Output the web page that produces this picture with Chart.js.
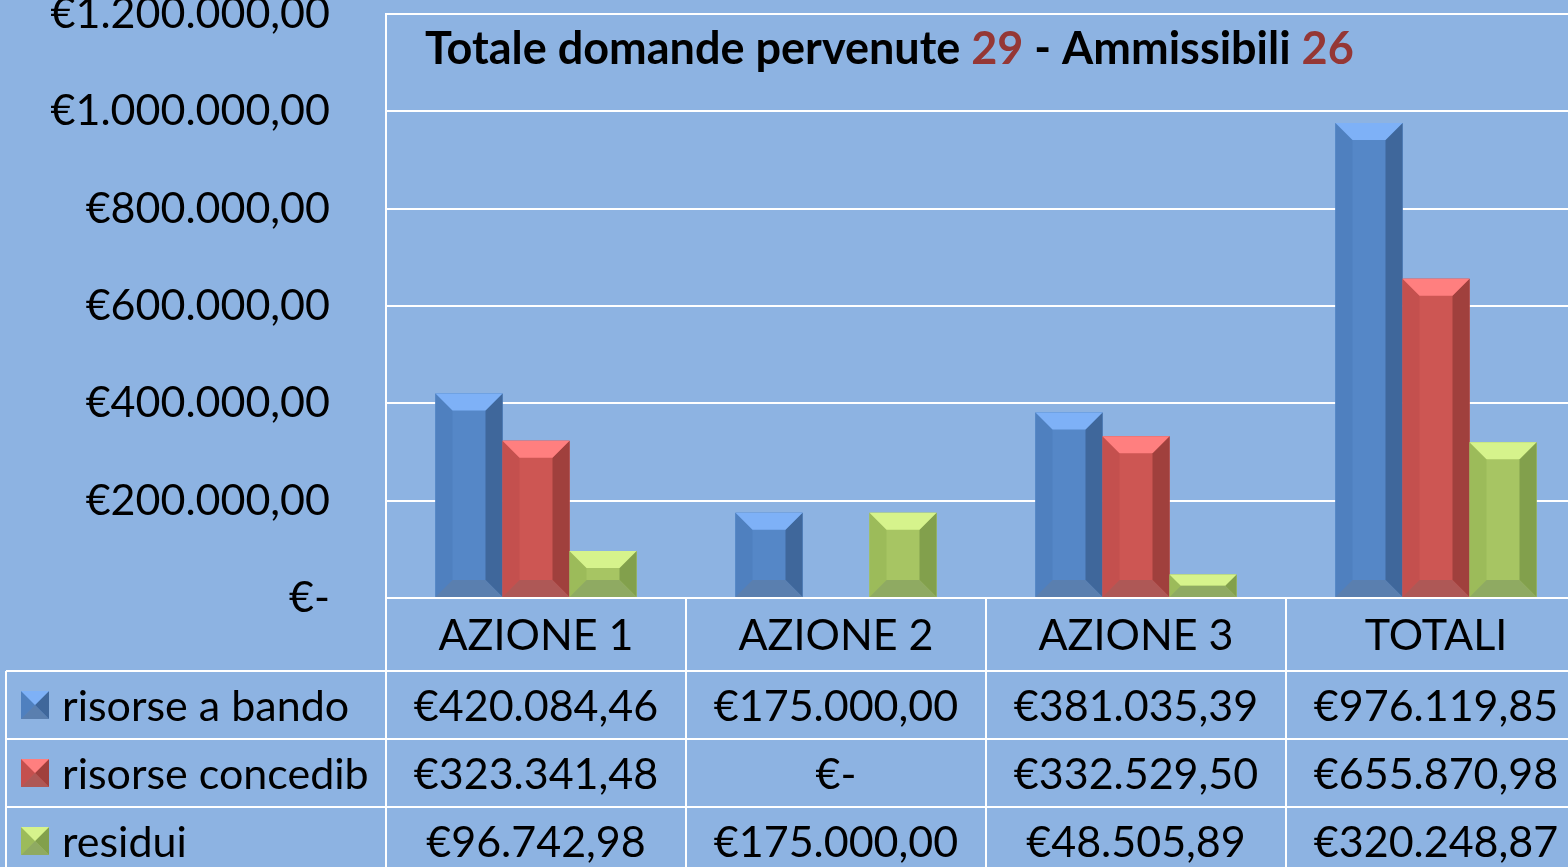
<!DOCTYPE html>
<html>
<head>
<meta charset="utf-8">
<script src="https://cdn.jsdelivr.net/npm/chart.js@4"></script>
<style>
html,body{margin:0;padding:0;background:#8DB3E2;overflow:hidden;}
#wrap{width:1590px;height:867px;}
</style>
</head>
<body>
<div id="wrap"><canvas id="c" width="1590" height="867"></canvas></div>
<script>
const categories = ['AZIONE 1', 'AZIONE 2', 'AZIONE 3', 'TOTALI'];
const seriesNames = ['risorse a bando', 'risorse concedib', 'residui'];
const risorseBando = [420084.46, 175000.00, 381035.39, 976119.85];
const risorseConcedib = [323341.48, 0, 332529.50, 655870.98];
const residui = [96742.98, 175000.00, 48505.89, 320248.87];
const yTickMax = 1200000;
const yTickStep = 200000;
const titleParts = [['Totale domande pervenute ', '#000'], ['29', '#953735'], [' - Ammissibili ', '#000'], ['26', '#953735']];

const palettes = [
  {face:'#5587C7', top:'#7EB1F7', left:'#4F80BF', right:'#3F679B', bottom:'#5A7FAF'},
  {face:'#CD5653', top:'#FF7F7F', left:'#C4504E', right:'#A0403D', bottom:'#AE5856'},
  {face:'#A7C563', top:'#D6F38C', left:'#9CBB5A', right:'#82A04C', bottom:'#8FAA62'}
];

function euro(v){
  if (v === 0) return '€-';
  const neg = v < 0; v = Math.abs(v);
  const cents = Math.round(v*100);
  let intPart = Math.floor(cents/100).toString();
  const dec = (cents%100).toString().padStart(2,'0');
  intPart = intPart.replace(/\B(?=(\d{3})+(?!\d))/g, '.');
  return (neg?'-':'') + '€' + intPart + ',' + dec;
}

const FONT = 'Lato, "DejaVu Sans", sans-serif';

function bevel(ctx, x0, x1, yTop, yBot, b, p){
  ctx.save();
  const poly = (pts, col) => {
    ctx.beginPath();
    ctx.moveTo(pts[0][0], pts[0][1]);
    for (let i=1;i<pts.length;i++) ctx.lineTo(pts[i][0], pts[i][1]);
    ctx.closePath();
    ctx.fillStyle = col; ctx.fill();
  };
  poly([[x0,yTop],[x1,yTop],[x1,yBot],[x0,yBot]], p.face);
  poly([[x0,yTop],[x0+b,yTop+b],[x0+b,yBot-b],[x0,yBot]], p.left);
  poly([[x1,yTop],[x1-b,yTop+b],[x1-b,yBot-b],[x1,yBot]], p.right);
  poly([[x0,yTop],[x1,yTop],[x1-b,yTop+b],[x0+b,yTop+b]], p.top);
  poly([[x0,yBot],[x1,yBot],[x1-b,yBot-b],[x0+b,yBot-b]], p.bottom);
  ctx.restore();
}

const bevelPlugin = {
  id: 'bevel',
  afterDatasetsDraw(chart){
    const ctx = chart.ctx;
    chart.data.datasets.forEach((ds, di) => {
      const meta = chart.getDatasetMeta(di);
      meta.data.forEach(el => {
        const {x, y, base, width} = el.getProps(['x','y','base','width'], true);
        const h = base - y;
        if (h <= 0.5) return;
        const x0 = x - width/2, x1 = x + width/2;
        const b = Math.min(17, h/2, width/2);
        bevel(ctx, x0, x1, y, base, b, palettes[di]);
      });
    });
  }
};

const tablePlugin = {
  id: 'table',
  afterDraw(chart){
    const ctx = chart.ctx;
    const xs = chart.scales.x;
    const area = chart.chartArea;
    const W = chart.width, H = chart.height;
    const yZero = chart.scales.y.getPixelForValue(0);
    const rowH = 68;
    const rows = [yZero, yZero + 73, yZero + 73 + rowH, yZero + 73 + 2*rowH];
    ctx.save();
    ctx.strokeStyle = '#FFFFFF';
    ctx.lineWidth = 2;
    for (let r=1;r<rows.length;r++){
      ctx.beginPath(); ctx.moveTo(6, rows[r]); ctx.lineTo(W, rows[r]); ctx.stroke();
    }
    ctx.beginPath(); ctx.moveTo(area.left, area.top); ctx.lineTo(area.left, H); ctx.stroke();
    ctx.beginPath(); ctx.moveTo(6, rows[1]); ctx.lineTo(6, H); ctx.stroke();
    for (let i=0;i<categories.length;i++){
      const step = categories.length > 1 ? xs.getPixelForValue(1) - xs.getPixelForValue(0) : 300;
      const xb = xs.getPixelForValue(i) + step/2;
      ctx.beginPath(); ctx.moveTo(xb, yZero); ctx.lineTo(xb, H); ctx.stroke();
    }
    ctx.fillStyle = '#000';
    ctx.font = '43px ' + FONT;
    ctx.textAlign = 'center';
    ctx.textBaseline = 'middle';
    const centers = [(rows[0]+rows[1])/2, (rows[1]+rows[2])/2, (rows[2]+rows[3])/2, rows[3] + 34];
    categories.forEach((c, i) => ctx.fillText(c, xs.getPixelForValue(i), centers[0]+2));
    const sets = [risorseBando, risorseConcedib, residui];
    sets.forEach((s, si) => {
      s.forEach((v, i) => ctx.fillText(euro(v), xs.getPixelForValue(i), centers[si+1]+2));
      ctx.textAlign = 'left';
      ctx.fillText(seriesNames[si], 62, centers[si+1]+2);
      ctx.textAlign = 'center';
      bevel(ctx, 21, 49, centers[si+1]-14, centers[si+1]+14, 14, palettes[si]);
    });
    ctx.font = 'bold 45px ' + FONT;
    ctx.textAlign = 'left';
    let tx = 425;
    titleParts.forEach(([t, col]) => {
      ctx.fillStyle = col;
      ctx.fillText(t, tx, 49);
      tx += ctx.measureText(t).width;
    });
    ctx.restore();
  }
};

new Chart(document.getElementById('c'), {
  type: 'bar',
  data: {
    labels: categories,
    datasets: [
      {label: seriesNames[0], data: risorseBando, backgroundColor: palettes[0].face},
      {label: seriesNames[1], data: risorseConcedib, backgroundColor: palettes[1].face},
      {label: seriesNames[2], data: residui, backgroundColor: palettes[2].face}
    ]
  },
  options: {
    responsive: false,
    devicePixelRatio: 1,
    animation: false,
    events: [],
    layout: {padding: {top: 14, left: 0, right: 4, bottom: 269}},
    datasets: {bar: {categoryPercentage: 0.67, barPercentage: 1.0, borderWidth: 0}},
    plugins: {legend: {display: false}, tooltip: {enabled: false}, title: {display: false}},
    scales: {
      x: {display: false},
      y: {
        min: 0, max: yTickMax,
        afterFit(scale){ scale.width = 386; scale.paddingTop = 0; scale.paddingBottom = 0; },
        ticks: {stepSize: yTickStep, padding: 56, color: '#000', font: {family: FONT, size: 43},
          callback: v => euro(v)},
        grid: {color: '#FFFFFF', lineWidth: 2, drawTicks: false},
        border: {display: true, color: '#FFFFFF', width: 2}
      }
    }
  },
  plugins: [bevelPlugin, tablePlugin]
});
</script>
</body>
</html>
